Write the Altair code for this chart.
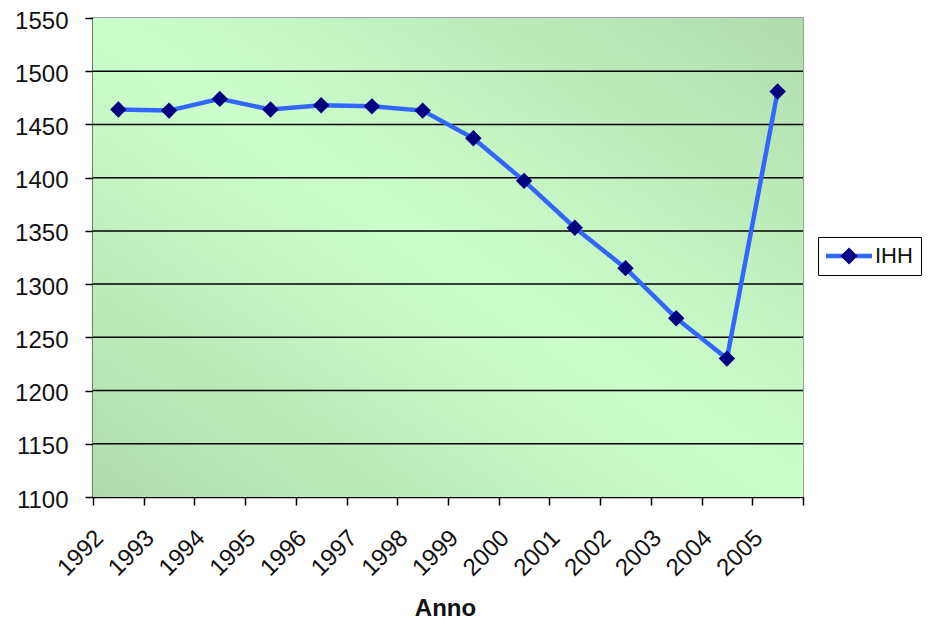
import altair as alt
import pandas as pd

years = ["1992", "1993", "1994", "1995", "1996", "1997", "1998",
         "1999", "2000", "2001", "2002", "2003", "2004", "2005"]
ihh = [1464, 1463, 1474, 1464, 1468, 1467, 1463,
       1437, 1397, 1353, 1315, 1268, 1230, 1481]
series_name = "IHH"
y_ticks = [1100, 1150, 1200, 1250, 1300, 1350, 1400, 1450, 1500, 1550]

df = pd.DataFrame({"Anno": years, "IHH": ihh})
df["serie"] = series_name
df["serie_m"] = series_name
grid_df = pd.DataFrame({"IHH": [t for t in y_ticks if t not in (1100, 1550)]})

FONT = "Liberation Sans"
W, H = 710, 479

y_scale = alt.Scale(domain=[1100, 1550], nice=False, zero=False)
y_axis = alt.Axis(
    title=None, values=y_ticks, grid=False, format="d",
    tickSize=8, tickColor="black", tickWidth=1.5, domainColor="black", domainWidth=1.5,
    labelPadding=17, labelFont=FONT, labelFontSize=24, labelColor="#111111",
    labelOffset=3,
)

x_enc = alt.X(
    "Anno:N", sort=years,
    scale=alt.Scale(type="band", paddingInner=0, paddingOuter=0),
    axis=alt.Axis(
        title="Anno", labelAngle=-45, labelAlign="right", labelBaseline="middle",
        labelOffset=-19, labelPadding=29, tickBand="extent", tickSize=8,
        tickColor="black", tickWidth=1.5, domainColor="black", domainWidth=1.5,
        labelFont=FONT, labelFontSize=24, labelColor="#111111", grid=False,
        titleFont=FONT, titleFontSize=24, titleFontWeight="bold", titleColor="#111111",
        titleX=352, titleY=118, titleBaseline="alphabetic", titleAlign="center",
    ),
)
y_enc = alt.Y("IHH:Q", scale=y_scale, axis=y_axis)

gradient = {
    "gradient": "linear", "x1": 0, "y1": 1, "x2": 1, "y2": 0,
    "stops": [
        {"offset": 0, "color": "#b0dcac"},
        {"offset": 0.5, "color": "#ccffcc"},
        {"offset": 1, "color": "#b0dcac"},
    ],
}

bg = alt.Chart(pd.DataFrame({"a": [0]})).mark_rect(fill=gradient).encode(
    x=alt.value(0), x2=alt.value(W), y=alt.value(0), y2=alt.value(H)
)

grid = alt.Chart(grid_df).mark_rule(color="black", strokeWidth=1.5).encode(
    y=alt.Y("IHH:Q", scale=y_scale, axis=y_axis)
)

LX, LY = 725, 219
SYM_OFF = 12

line = alt.Chart(df).mark_line(strokeWidth=4.5).encode(
    x=x_enc, y=y_enc,
    color=alt.Color(
        "serie:N", scale=alt.Scale(range=["#3366ff"]),
        legend=alt.Legend(
            title=None, orient="none", legendX=LX, legendY=LY, strokeColor="black",
            padding=8, symbolType="M-4.6,0H4.6", symbolSize=100, symbolStrokeWidth=4.5,
            symbolOffset=SYM_OFF,
            labelFont=FONT, labelFontSize=22, labelColor="#111111", labelOffset=15,
        ),
    ),
)

points = alt.Chart(df).mark_point(shape="diamond", filled=True, size=270, opacity=1).encode(
    x=x_enc, y=y_enc,
    fill=alt.Fill(
        "serie_m:N", scale=alt.Scale(range=["#000080"]),
        legend=alt.Legend(
            title=None, orient="none", legendX=LX, legendY=LY,
            padding=8, symbolType="M0,-1.7L1.7,0L0,1.7L-1.7,0Z",
            symbolSize=100, symbolStrokeWidth=0, symbolOffset=SYM_OFF,
            labelFont=FONT, labelFontSize=22, labelExpr="''", labelOffset=15,
        ),
    ),
)

chart = alt.layer(bg, grid, line, points).properties(
    width=W, height=H,
    padding={"left": 85, "top": 10, "right": 120, "bottom": 123},
    autosize=alt.AutoSizeParams(type="none"),
    background="white",
).configure_view(
    stroke="#a0a0a0", strokeWidth=2,
)

chart.save("out.html", embed_options={"renderer": "svg", "actions": False})
